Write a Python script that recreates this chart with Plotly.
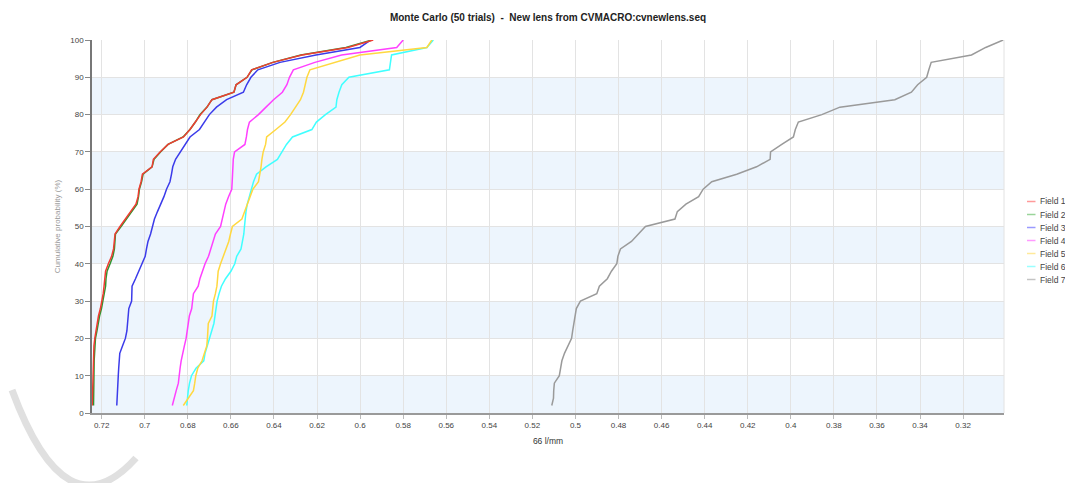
import plotly.graph_objects as go

# Cumulative probability levels (50 trials -> steps of 2 %)
probability = list(range(2, 101, 2))

field_1 = [0.7244, 0.7243, 0.7242, 0.7241, 0.7240, 0.7240, 0.7239, 0.7239, 0.7236, 0.7232,
           0.7227, 0.7222, 0.7215, 0.7206, 0.7199, 0.7193, 0.7189, 0.7187, 0.7182, 0.7169,
           0.7154, 0.7145, 0.7141, 0.7138, 0.7115, 0.7089, 0.7066, 0.7041, 0.7031, 0.7027,
           0.7017, 0.7011, 0.6966, 0.6960, 0.6929, 0.6892, 0.6820, 0.6790, 0.6765, 0.6741,
           0.6711, 0.6688, 0.6586, 0.6576, 0.6525, 0.6504, 0.6405, 0.6270, 0.6057, 0.5939]

field_2 = [0.7238, 0.7238, 0.7237, 0.7237, 0.7236, 0.7236, 0.7235, 0.7233, 0.7231, 0.7229,
           0.7222, 0.7217, 0.7210, 0.7201, 0.7194, 0.7187, 0.7182, 0.7180, 0.7175, 0.7161,
           0.7148, 0.7141, 0.7138, 0.7136, 0.7110, 0.7085, 0.7062, 0.7036, 0.7029, 0.7025,
           0.7015, 0.7008, 0.6966, 0.6957, 0.6927, 0.6892, 0.6822, 0.6790, 0.6765, 0.6744,
           0.6711, 0.6688, 0.6586, 0.6576, 0.6525, 0.6502, 0.6405, 0.6275, 0.6066, 0.5945]

field_3 = [0.7130, 0.7129, 0.7127, 0.7126, 0.7123, 0.7121, 0.7118, 0.7116, 0.7103, 0.7090,
           0.7083, 0.7079, 0.7078, 0.7074, 0.7061, 0.7060, 0.7059, 0.7043, 0.7029, 0.7015,
           0.6998, 0.6992, 0.6985, 0.6973, 0.6965, 0.6955, 0.6941, 0.6925, 0.6911, 0.6899,
           0.6883, 0.6876, 0.6870, 0.6857, 0.6836, 0.6811, 0.6790, 0.6746, 0.6725, 0.6700,
           0.6667, 0.6620, 0.6542, 0.6527, 0.6507, 0.6475, 0.6372, 0.6205, 0.6001, 0.5950]

field_4 = [0.6872, 0.6864, 0.6854, 0.6844, 0.6841, 0.6836, 0.6831, 0.6825, 0.6816, 0.6808,
           0.6803, 0.6798, 0.6793, 0.6782, 0.6778, 0.6774, 0.6752, 0.6744, 0.6732, 0.6720,
           0.6704, 0.6693, 0.6681, 0.6672, 0.6648, 0.6639, 0.6631, 0.6624, 0.6611, 0.6596,
           0.6594, 0.6592, 0.6591, 0.6589, 0.6583, 0.6535, 0.6528, 0.6523, 0.6514, 0.6472,
           0.6437, 0.6402, 0.6361, 0.6340, 0.6328, 0.6310, 0.6210, 0.6086, 0.5830, 0.5800]

field_5 = [0.6821, 0.6799, 0.6774, 0.6768, 0.6763, 0.6754, 0.6734, 0.6723, 0.6712, 0.6709,
           0.6706, 0.6705, 0.6688, 0.6684, 0.6681, 0.6672, 0.6665, 0.6662, 0.6659, 0.6648,
           0.6635, 0.6621, 0.6610, 0.6602, 0.6593, 0.6549, 0.6537, 0.6523, 0.6512, 0.6498,
           0.6472, 0.6465, 0.6460, 0.6456, 0.6450, 0.6439, 0.6434, 0.6391, 0.6349, 0.6323,
           0.6300, 0.6277, 0.6263, 0.6256, 0.6247, 0.6233, 0.6117, 0.6001, 0.5690, 0.5667]

field_6 = [0.6805, 0.6802, 0.6798, 0.6792, 0.6783, 0.6762, 0.6726, 0.6720, 0.6709, 0.6700,
           0.6690, 0.6679, 0.6674, 0.6669, 0.6664, 0.6655, 0.6644, 0.6625, 0.6600, 0.6582,
           0.6573, 0.6553, 0.6546, 0.6540, 0.6537, 0.6534, 0.6530, 0.6524, 0.6515, 0.6505,
           0.6495, 0.6481, 0.6437, 0.6384, 0.6364, 0.6342, 0.6314, 0.6224, 0.6203, 0.6161,
           0.6112, 0.6108, 0.6098, 0.6085, 0.6052, 0.5864, 0.5859, 0.5854, 0.5690, 0.5660]

field_7 = [0.5110, 0.5102, 0.5101, 0.5098, 0.5075, 0.5069, 0.5063, 0.5051, 0.5035, 0.5018,
           0.5013, 0.5007, 0.5002, 0.4996, 0.4977, 0.4901, 0.4889, 0.4852, 0.4833, 0.4808,
           0.4803, 0.4791, 0.4740, 0.4708, 0.4675, 0.4538, 0.4527, 0.4487, 0.4428, 0.4407,
           0.4367, 0.4251, 0.4159, 0.4096, 0.4094, 0.4042, 0.3988, 0.3979, 0.3965, 0.3856,
           0.3772, 0.3517, 0.3440, 0.3411, 0.3369, 0.3359, 0.3348, 0.3161, 0.3095, 0.3014]

field_names = ["Field 1", "Field 2", "Field 3", "Field 4", "Field 5", "Field 6", "Field 7"]
field_values = [field_1, field_2, field_3, field_4, field_5, field_6, field_7]
field_colors = ["#f03c32", "#2f962f", "#3b3bea", "#ff40ff", "#ffd840", "#40ffff", "#9a9a9a"]
legend_colors = ["#ff9a9a", "#9ad49a", "#9a9aff", "#ff9aff", "#ffe99a", "#9affff", "#c4c4c4"]

x_ticks = [0.72, 0.70, 0.68, 0.66, 0.64, 0.62, 0.60, 0.58, 0.56, 0.54, 0.52,
           0.50, 0.48, 0.46, 0.44, 0.42, 0.40, 0.38, 0.36, 0.34, 0.32]
x_tick_text = ["0.72", "0.7", "0.68", "0.66", "0.64", "0.62", "0.6", "0.58", "0.56", "0.54", "0.52",
               "0.5", "0.48", "0.46", "0.44", "0.42", "0.4", "0.38", "0.36", "0.34", "0.32"]
y_ticks = list(range(0, 101, 10))

W, H = 1065, 483
L, R, T, B = 92, 61, 40, 70
PW, PH = W - L - R, H - T - B


def px(x):
    return (x - L) / PW


def py(y):
    return (H - B - y) / PH


fig = go.Figure()

# later fields first so that Field 1 sits on top
for name, vals, col in reversed(list(zip(field_names, field_values, field_colors))):
    fig.add_trace(go.Scatter(x=vals, y=probability, mode="lines", name=name,
                             line=dict(color=col, width=1.5), showlegend=False))

shapes = []
# alternating pale blue bands
for y0 in range(0, 100, 20):
    shapes.append(dict(type="rect", xref="paper", yref="y", x0=0, x1=1, y0=y0, y1=y0 + 10,
                       fillcolor="#edf5fd", line=dict(width=0), layer="below"))
# right border
shapes.append(dict(type="line", xref="paper", yref="paper", x0=1, x1=1, y0=0, y1=1,
                   line=dict(color="#e2e2e2", width=1), layer="below"))
# faint watermark arc
shapes.append(dict(type="path", xref="paper", yref="paper",
                   path=f"M {px(12)},{py(390)} Q {px(66)},{py(536)} {px(136)},{py(458)}",
                   line=dict(color="#e0e0e0", width=7), layer="above"))

annotations = []
# legend drawn as compact rows
for i, (name, col) in enumerate(zip(field_names, legend_colors)):
    yy = 201.5 + 13 * i
    shapes.append(dict(type="line", xref="paper", yref="paper",
                       x0=px(1027), x1=px(1035.5), y0=py(yy), y1=py(yy),
                       line=dict(color=col, width=1.5)))
    annotations.append(dict(xref="paper", yref="paper", x=px(1038), y=py(yy), text=name,
                            showarrow=False, xanchor="left", yanchor="middle",
                            font=dict(size=8.5, color="#444", family="Liberation Sans, Arial")))

fig.update_layout(
    width=W, height=H,
    margin=dict(l=L, r=R, t=T, b=B),
    paper_bgcolor="white", plot_bgcolor="white",
    font=dict(family="Liberation Sans, Arial", size=8, color="#444"),
    title=dict(text="Monte Carlo (50 trials)&nbsp;&nbsp;-&nbsp;&nbsp;New lens from CVMACRO:cvnewlens.seq",
               x=0.5, xref="paper", y=1 - 17 / H, yanchor="middle",
               font=dict(size=10, color="#222", family="Liberation Sans, Arial", weight="bold")),
    shapes=shapes,
    annotations=annotations,
    showlegend=False,
)

fig.update_xaxes(
    range=[0.7245, 0.301], tickvals=x_ticks, ticktext=x_tick_text,
    showgrid=True, gridcolor="#e3e3e3", gridwidth=1,
    showline=True, linecolor="#9a9a9a", linewidth=1.5,
    ticks="outside", ticklen=4, tickcolor="#bbbbbb",
    tickfont=dict(size=8, color="#444"),
    zeroline=False,
    title=dict(text="66 l/mm", font=dict(size=8.5, color="#333"), standoff=9),
)
fig.update_yaxes(
    range=[0, 100], tickvals=y_ticks,
    showgrid=True, gridcolor="#e3e3e3", gridwidth=1,
    showline=True, linecolor="#777777", linewidth=1.5,
    ticks="outside", ticklen=5, tickcolor="#888888",
    tickfont=dict(size=8, color="#444"),
    zeroline=False,
    title=dict(text="Cumulative probability (%)", font=dict(size=8, color="#9a9a9a"), standoff=8),
)

fig.write_html("out.html")
